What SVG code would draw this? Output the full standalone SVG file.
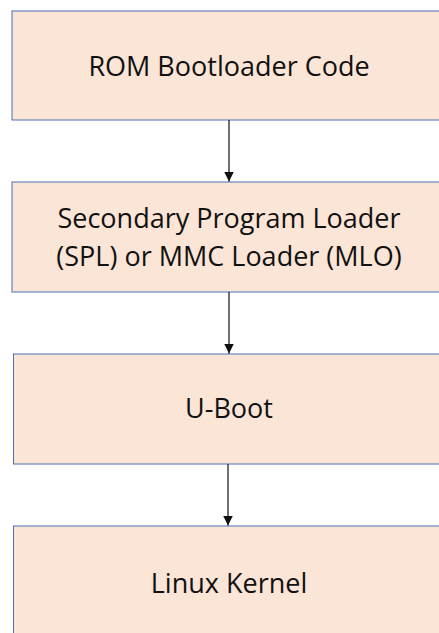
<svg xmlns="http://www.w3.org/2000/svg" width="439" height="633" viewBox="0 0 439 633">
<style>
.box{fill:#FBE5D6;stroke:#4A6FB5;stroke-width:1}
.lbl{font-family:"Open Sans","Liberation Sans",sans-serif;font-size:27px;fill:#111;text-anchor:middle}
.con{stroke:#111;stroke-width:1.2;fill:none}
</style>
<defs>
<marker id="ah" viewBox="0 0 10 10" refX="10" refY="5" markerWidth="10" markerHeight="10" markerUnits="userSpaceOnUse" orient="auto">
<path d="M0,0 L10,5 L0,10 z" fill="#111"/>
</marker>
</defs>
<rect width="439" height="633" fill="#fff"/>
<g id="n1"><rect class="box" x="12" y="11" width="436" height="109"/><text class="lbl" x="229" y="76">ROM Bootloader Code</text></g>
<g id="n2"><rect class="box" x="12" y="182" width="436" height="110"/><text class="lbl" x="229" y="228">Secondary Program Loader</text><text class="lbl" x="229" y="266">(SPL) or MMC Loader (MLO)</text></g>
<g id="n3"><rect class="box" x="13.5" y="354" width="436" height="110"/><text class="lbl" x="229" y="418">U-Boot</text></g>
<g id="n4"><rect class="box" x="13.5" y="526" width="436" height="120"/><text class="lbl" x="229" y="593">Linux Kernel</text></g>
<g id="connectors">
<line class="con" x1="229" y1="120" x2="229" y2="181.5" marker-end="url(#ah)"/>
<line class="con" x1="229" y1="292" x2="229" y2="353.5" marker-end="url(#ah)"/>
<line class="con" x1="228" y1="464" x2="228" y2="525.5" marker-end="url(#ah)"/>
</g>
</svg>
